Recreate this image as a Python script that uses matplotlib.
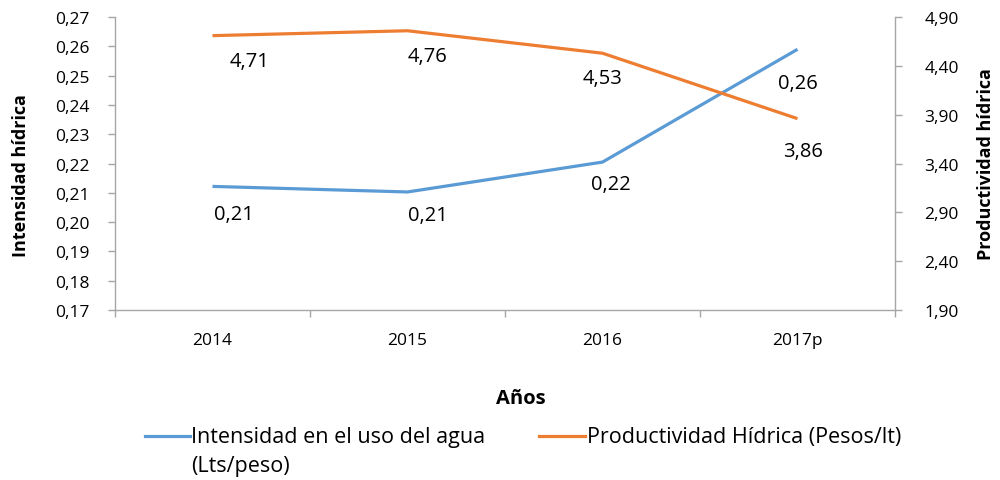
import matplotlib
matplotlib.use("Agg")
import matplotlib.pyplot as plt
from matplotlib.lines import Line2D
from matplotlib.ticker import FixedLocator, FuncFormatter
import numpy as np

years = ["2014", "2015", "2016", "2017p"]
intensidad = [0.2122, 0.2103, 0.2205, 0.2590]
productividad = [4.71, 4.76, 4.53, 3.86]
int_labels = ["0,21", "0,21", "0,22", "0,26"]
prod_labels = ["4,71", "4,76", "4,53", "3,86"]
left_ticks = [0.17, 0.18, 0.19, 0.20, 0.21, 0.22, 0.23, 0.24, 0.25, 0.26, 0.27]
right_ticks = [1.90, 2.40, 2.90, 3.40, 3.90, 4.40, 4.90]

# label offsets in pixels (dx, dy) for styling only
int_off = [(21, -28), (20, -23), (8, -22), (0, -34)]
prod_off = [(37, -25), (20, -25), (0, -25), (6, -32)]

BLUE = "#5B9BD5"
ORANGE = "#ED7D31"
GRAY = "#A6A6A6"
FONT = "Open Sans"
plt.rcParams['font.family'] = [FONT, 'DejaVu Sans']

fig = plt.figure(figsize=(10, 4.81), dpi=100)
ax = fig.add_axes([0.115, 0.3534, 0.78, 0.609])
ax2 = ax.twinx()

x = np.arange(len(years))
ax.plot(x, intensidad, color=BLUE, lw=2.3, solid_capstyle='butt', zorder=3)
ax2.plot(x, productividad, color=ORANGE, lw=2.3, solid_capstyle='butt', zorder=3)

px = 0.72
for i, (v, lab) in enumerate(zip(intensidad, int_labels)):
    ax.annotate(lab, (x[i], v), xytext=(int_off[i][0]*px, int_off[i][1]*px),
                textcoords='offset points', ha='center', va='center',
                fontsize=14.5, color='#000000')
for i, (v, lab) in enumerate(zip(productividad, prod_labels)):
    ax2.annotate(lab, (x[i], v), xytext=(prod_off[i][0]*px, prod_off[i][1]*px),
                 textcoords='offset points', ha='center', va='center',
                 fontsize=14.5, color='#000000')

ax.set_xlim(-0.5, len(years) - 0.5)
ax.set_ylim(0.17, 0.27)
ax2.set_ylim(1.90, 4.90)

ax.yaxis.set_major_locator(FixedLocator(left_ticks))
ax.yaxis.set_major_formatter(FuncFormatter(lambda v, p: f"{v:.2f}".replace('.', ',')))
ax2.yaxis.set_major_locator(FixedLocator(right_ticks))
ax2.yaxis.set_major_formatter(FuncFormatter(lambda v, p: f"{v:.2f}".replace('.', ',')))

ax.set_xticks(x)
ax.set_xticklabels(years)
ax.set_xticks(np.arange(-0.5, len(years)), minor=True)
ax.tick_params(axis='x', which='major', length=0, pad=16, labelsize=12.5)
ax.tick_params(axis='x', which='minor', length=5, color=GRAY, width=1)
ax.tick_params(axis='y', length=5, color=GRAY, width=1, labelsize=12.5, pad=13)
ax2.tick_params(axis='y', length=5, color=GRAY, width=1, labelsize=12.5, pad=16)

for a in (ax, ax2):
    a.spines['top'].set_visible(False)
    for s in ('left', 'right', 'bottom'):
        a.spines[s].set_color(GRAY)
        a.spines[s].set_linewidth(1)
ax.spines['right'].set_visible(False)
ax2.spines['left'].set_visible(False)
ax2.spines['bottom'].set_visible(False)

fig.text(0.021, 1 - 176/481, "Intensidad hídrica", rotation=90, ha='center', va='center',
         fontsize=13, fontweight='bold')
fig.text(0.986, 1 - 164/481, "Productividad hídrica", rotation=90, ha='center', va='center',
         fontsize=13, fontweight='bold')
fig.text(0.521, 1 - 399/481, "Años", ha='center', va='center', fontsize=14.5, fontweight='bold')

# legend
fig.add_artist(Line2D([145/1000, 190/1000], [1 - 437/481] * 2, color=BLUE, lw=2.3))
fig.text(191/1000, 1 - 438/481, "Intensidad en el uso del agua", ha='left', va='center', fontsize=15.5)
fig.text(191/1000, 1 - 467/481, "(Lts/peso)", ha='left', va='center', fontsize=15.5)
fig.add_artist(Line2D([539/1000, 585/1000], [1 - 437/481] * 2, color=ORANGE, lw=2.3))
fig.text(587/1000, 1 - 438/481, "Productividad Hídrica (Pesos/lt)", ha='left', va='center', fontsize=15.5)

fig.savefig("out.png", dpi=100)
